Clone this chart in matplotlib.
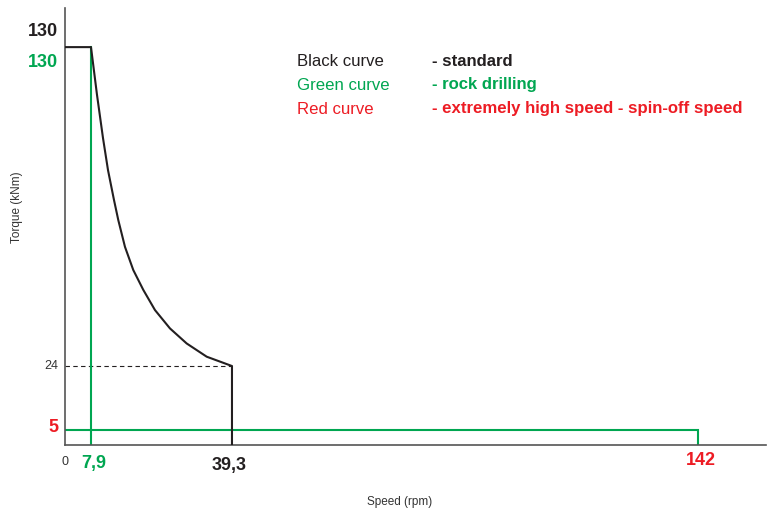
import matplotlib
matplotlib.use("Agg")
import matplotlib.pyplot as plt
import numpy as np

plt.rcParams["font.family"] = ["Liberation Sans", "DejaVu Sans"]

# colours
BLACK = "#231f20"
GREEN = "#00a651"
RED = "#ed1c24"
GREY = "#555555"

# black curve - standard (speed rpm, torque kNm)
black_speed = [0, 7.9, 9.24, 10.57, 11.69, 13.02, 13.98, 15.47, 17.32,
               19.55, 22.15, 25.49, 29.21, 33.67, 39.3, 39.3]
black_torque = [130, 130, 114.1, 99.8, 89.1, 79.2, 72.5, 63.6, 55.9,
                49.3, 42.6, 36.5, 31.5, 27.1, 24, 0]

# green curve - rock drilling
green_vert_speed = [7.9, 7.9]
green_vert_torque = [0, 130]
green_speed = [0, 142, 142]
green_torque = [5, 5, 0]

# reference values
speed_marks = [0, 7.9, 39.3, 142]
torque_marks = [0, 5, 24, 130]

# schematic (non-linear) axis spacing, as drawn in the original sheet
x_anchor = [0, 7.9, 39.3, 142, 1000]
x_pos = [0, 26, 167, 633, 633 + 858 * 4.54]
y_anchor = [0, 5, 24, 130, 1000]
y_pos = [0, 15, 79, 398, 398 + 870 * 3.01]


def fwd_x(v):
    return np.interp(v, x_anchor, x_pos)


def inv_x(v):
    return np.interp(v, x_pos, x_anchor)


def fwd_y(v):
    return np.interp(v, y_anchor, y_pos)


def inv_y(v):
    return np.interp(v, y_pos, y_anchor)


fig = plt.figure(figsize=(7.76, 5.13), dpi=100)
ax = fig.add_axes([65 / 776, 1 - 445 / 513, 701 / 776, 437 / 513])
ax.set_xscale("function", functions=(fwd_x, inv_x))
ax.set_yscale("function", functions=(fwd_y, inv_y))
ax.set_xlim(0, 157)
ax.set_ylim(0, 143)

ax.plot(green_vert_speed, green_vert_torque, color=GREEN, lw=1.5,
        solid_joinstyle="miter", zorder=2)
ax.plot(green_speed, green_torque, color=GREEN, lw=1.5,
        solid_joinstyle="miter", zorder=2)
ax.plot(black_speed, black_torque, color=BLACK, lw=1.5,
        solid_joinstyle="round", zorder=3)
ax.plot([0, 39.3], [24, 24], color=BLACK, lw=0.8, ls=(0, (4, 3)), zorder=1)

for side in ["top", "right"]:
    ax.spines[side].set_visible(False)
for side in ["left", "bottom"]:
    ax.spines[side].set_color(GREY)
    ax.spines[side].set_linewidth(1.2)
ax.set_xticks([])
ax.set_yticks([])

# value labels along the axes
def ylab(val, txt, color, dy, size=13, weight="bold"):
    ax.annotate(txt, xy=(0, val), xytext=(-5, dy), textcoords="offset points",
                ha="right", va="center", color=color, fontsize=size,
                fontweight=weight)


def xlab(val, txt, color, dx, dy, size=13, weight="bold"):
    ax.annotate(txt, xy=(val, 0), xytext=(dx, dy), textcoords="offset points",
                ha="center", va="center", color=color, fontsize=size,
                fontweight=weight)


ylab(torque_marks[3], "130", BLACK, 11.5)
ylab(torque_marks[3], "130", GREEN, -11)
ylab(torque_marks[2], "24", "#333333", 0, size=9, weight="normal")
ylab(torque_marks[1], "5", RED, 1.5)

xlab(speed_marks[0], "0", "#333333", 0, -12, size=9, weight="normal")
xlab(speed_marks[1], "7,9", GREEN, 2, -13)
xlab(speed_marks[2], "39,3", BLACK, -2, -14.5)
xlab(speed_marks[3], "142", RED, 2, -11.5)

# legend text
rows = [("Black curve", "- standard", BLACK),
        ("Green curve", "- rock drilling", GREEN),
        ("Red curve", "- extremely high speed - spin-off speed", RED)]
for i, (name, desc, col) in enumerate(rows):
    y = 1 - (61 + 24 * i) / 513
    fig.text(297 / 776, y, name, color=col, fontsize=12.1, va="center")
    fig.text(432 / 776, y, desc, color=col, fontsize=12.1, va="center",
             fontweight="bold")

fig.text(400 / 776, 1 - 502 / 513, "Speed (rpm)", ha="center", va="center",
         fontsize=8.5, color="#333333")
fig.text(17 / 776, 1 - 207 / 513, "Torque (kNm)", ha="center", va="center",
         rotation=90, fontsize=8.5, color="#333333")

fig.savefig("out.png", dpi=100)
